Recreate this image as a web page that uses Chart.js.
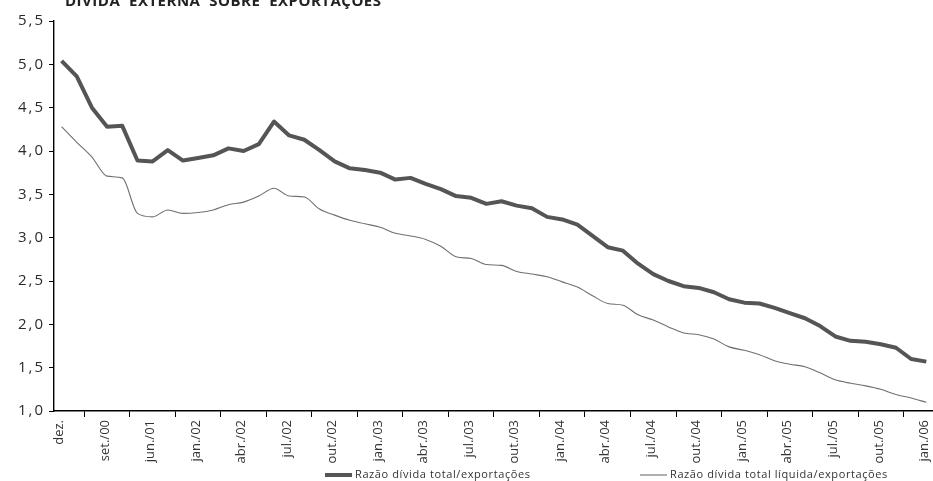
<!DOCTYPE html>
<html>
<head>
<meta charset="utf-8">
<title>Dívida externa sobre exportações</title>
<script src="https://cdn.jsdelivr.net/npm/chart.js"></script>
<style>
  html, body { margin: 0; padding: 0; background: #fff; overflow: hidden; }
  #box { position: absolute; left: 0; top: 0; width: 945px; height: 481px; }
</style>
</head>
<body>
<div id="box"><canvas id="chart"></canvas></div>
<script>
// categories: quarterly until dez./01, monthly afterwards
const categories = [
  'dez.', 'mar./00', 'jun./00', 'set./00', 'dez./00', 'mar./01', 'jun./01', 'set./01', 'dez./01',
  'jan./02', 'fev./02', 'mar./02', 'abr./02', 'mai./02', 'jun./02', 'jul./02', 'ago./02', 'set./02', 'out./02', 'nov./02', 'dez./02',
  'jan./03', 'fev./03', 'mar./03', 'abr./03', 'mai./03', 'jun./03', 'jul./03', 'ago./03', 'set./03', 'out./03', 'nov./03', 'dez./03',
  'jan./04', 'fev./04', 'mar./04', 'abr./04', 'mai./04', 'jun./04', 'jul./04', 'ago./04', 'set./04', 'out./04', 'nov./04', 'dez./04',
  'jan./05', 'fev./05', 'mar./05', 'abr./05', 'mai./05', 'jun./05', 'jul./05', 'ago./05', 'set./05', 'out./05', 'nov./05', 'dez./05',
  'jan./06'
];

const dividaTotal = [
  5.04, 4.86, 4.50, 4.28, 4.29, 3.89, 3.88, 4.01, 3.89, 3.92,
  3.95, 4.03, 4.00, 4.08, 4.34, 4.18, 4.13, 4.01, 3.88, 3.80,
  3.78, 3.75, 3.67, 3.69, 3.62, 3.56, 3.48, 3.46, 3.39, 3.42,
  3.37, 3.34, 3.24, 3.21, 3.15, 3.02, 2.89, 2.85, 2.70, 2.58,
  2.50, 2.44, 2.42, 2.37, 2.29, 2.25, 2.24, 2.19, 2.13, 2.07,
  1.98, 1.86, 1.81, 1.80, 1.77, 1.73, 1.60, 1.57
];

const dividaLiquida = [
  4.28, 4.10, 3.93, 3.71, 3.69, 3.28, 3.24, 3.32, 3.28, 3.29,
  3.32, 3.38, 3.41, 3.48, 3.57, 3.48, 3.47, 3.33, 3.26, 3.20,
  3.16, 3.12, 3.05, 3.02, 2.98, 2.90, 2.78, 2.76, 2.69, 2.68,
  2.61, 2.58, 2.55, 2.49, 2.43, 2.33, 2.24, 2.22, 2.11, 2.05,
  1.97, 1.90, 1.88, 1.83, 1.74, 1.70, 1.65, 1.58, 1.54, 1.51,
  1.44, 1.36, 1.32, 1.29, 1.25, 1.19, 1.15, 1.10
];

const titulo = 'DÍVIDA  EXTERNA  SOBRE  EXPORTAÇÕES';
const seriesNames = ['Razão dívida total/exportações', 'Razão dívida total líquida/exportações'];

// title (cut by the top edge) and the two legend entries
const extras = {
  id: 'extras',
  beforeDraw(chart) {
    chart.ctx.letterSpacing = '0px';
  },
  afterDatasetsDraw(chart) {
    // y tick labels (ticks.z = 1) get drawn after this, spaced like the original
    chart.ctx.letterSpacing = '2px';
  },
  afterDraw(chart) {
    const ctx = chart.ctx;
    ctx.save();
    ctx.letterSpacing = '0.5px';
    ctx.fillStyle = '#222';
    ctx.font = 'bold 15px "Open Sans"';
    ctx.textBaseline = 'alphabetic';
    ctx.fillText(titulo, 65, 5.5);

    const spots = [[325, 352], [640, 667]];
    ctx.font = '11px "Open Sans"';
    ctx.letterSpacing = '0.6px';
    ctx.textBaseline = 'middle';
    chart.data.datasets.forEach((ds, i) => {
      const [x0, x1] = spots[i];
      ctx.strokeStyle = ds.borderColor;
      ctx.lineWidth = ds.borderWidth;
      ctx.beginPath();
      ctx.moveTo(x0, 475);
      ctx.lineTo(x1, 475);
      ctx.stroke();
      ctx.fillStyle = '#333';
      ctx.fillText(ds.label, x1 + 3, 475);
    });
    ctx.restore();
    ctx.letterSpacing = '0px';
  }
};

new Chart(document.getElementById('chart'), {
  type: 'line',
  data: {
    labels: categories,
    datasets: [
      {
        label: seriesNames[0],
        data: dividaTotal,
        borderColor: '#555555',
        borderWidth: 4,
        pointRadius: 0,
        tension: 0,
        borderJoinStyle: 'round'
      },
      {
        label: seriesNames[1],
        data: dividaLiquida,
        borderColor: '#707070',
        borderWidth: 1.1,
        pointRadius: 0,
        cubicInterpolationMode: 'monotone'
      }
    ]
  },
  options: {
    responsive: true,
    maintainAspectRatio: false,
    animation: false,
    layout: { padding: { left: 0, right: 7.5, top: 21, bottom: 0 } },
    plugins: {
      legend: { display: false },
      title: { display: false },
      tooltip: { enabled: false }
    },
    scales: {
      x: {
        offset: true,
        afterFit(s) { s.height = 70; },
        grid: { offset: true, drawOnChartArea: false, drawTicks: true, tickLength: 6, color: '#000', lineWidth: 1 },
        border: { color: '#000', width: 1.4 },
        ticks: {
          autoSkip: false,
          maxRotation: 90,
          minRotation: 90,
          padding: 3,
          labelOffset: -2,
          color: '#333',
          font: { family: 'Open Sans', size: 13 },
          callback: (v, i) => (i % 3 === 0 ? categories[i] : null)
        }
      },
      y: {
        min: 1,
        max: 5.5,
        afterFit(s) { s.width = 54; },
        grid: { drawOnChartArea: false, drawTicks: true, tickLength: 5, color: '#000', lineWidth: 1 },
        border: { color: '#000', width: 1.4 },
        ticks: {
          z: 1,
          stepSize: 0.5,
          padding: 4,
          color: '#2a2a2a',
          font: { family: 'Open Sans', size: 15 },
          callback: v => v.toFixed(1).replace('.', ',')
        }
      }
    }
  },
  plugins: [extras]
});
</script>
</body>
</html>
